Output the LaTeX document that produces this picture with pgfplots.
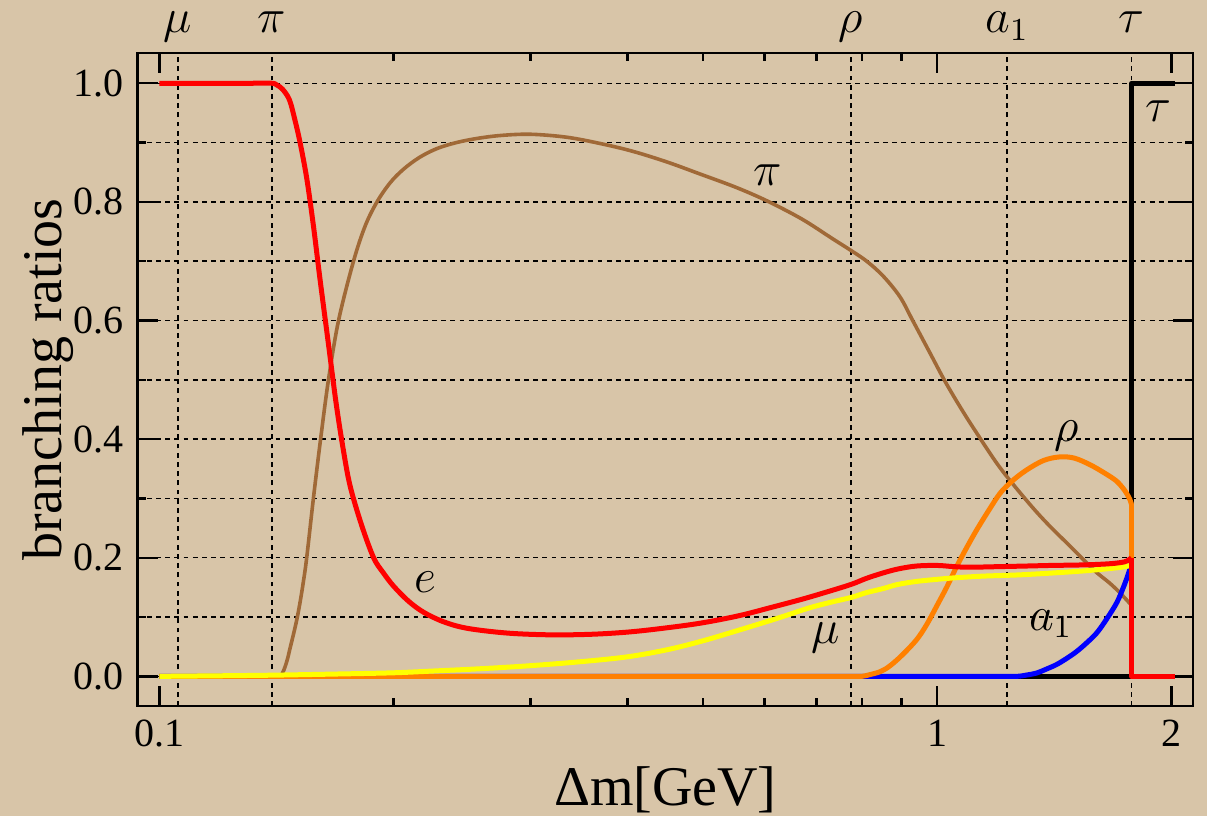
\documentclass[border=0pt]{standalone}
\usepackage{fontspec}
\setmainfont{Liberation Serif}
\usepackage{pgfplots}
\pgfplotsset{compat=1.18}
\usetikzlibrary{backgrounds}
\definecolor{parch}{RGB}{216,197,168}
\definecolor{mbrown}{RGB}{160,105,55}
\definecolor{morange}{RGB}{255,128,0}
\definecolor{myellow}{RGB}{255,255,0}
\begin{document}
\begin{tikzpicture}[background rectangle/.style={fill=parch}, show background rectangle, inner frame sep=0pt]
\useasboundingbox (-34.425pt,-27.5pt) rectangle (267.325pt,176.5pt);
\begin{axis}[
  at={(0,0)}, anchor=south west,
  scale only axis, width=263.825pt, height=163.25pt,
  xmode=log, xmin=0.0938, xmax=2.132, ymin=-0.05, ymax=1.051,
  clip=false,
  axis line style={line width=0.7pt},
  tick style={black, line width=0.6pt},
  major tick length=5pt, minor tick length=2pt,
  xtick={0.1,1,2}, xticklabels={0.1,1,2},
  minor xtick={0.2,0.3,0.4,0.5,0.6,0.7,0.8,0.9},
  ytick={0,0.2,0.4,0.6,0.8,1.0}, yticklabels={0.0,0.2,0.4,0.6,0.8,1.0},
  minor ytick={0.1,0.3,0.5,0.7,0.9},
  ymajorgrids, yminorgrids,
  extra x ticks={0.1057,0.1396,0.775,1.23,1.777}, extra x tick labels={},
  extra x tick style={grid=major, major tick length=0pt},
  grid style={black, dash pattern=on 1.2pt off 1.1pt, line width=0.35pt},
  minor grid style={black, dash pattern=on 1.2pt off 1.1pt, line width=0.35pt},
  tick label style={font=\fontsize{10}{12}\selectfont},
  xlabel={Δm[GeV]}, ylabel={branching ratios},
  label style={font=\fontsize{14}{16}\selectfont},
  xlabel style={at={(axis description cs:0.5,-0.129)}, anchor=center},
  ylabel style={at={(axis description cs:-0.085,0.5)}, anchor=center},
  every axis plot/.append style={no markers, line join=round},
]
% tau (black)
\addplot[black, line width=1.25pt] coordinates {(0.1,0) (1.777,0) (1.777,1) (2.02,1)};
% pi (brown)
\addplot[mbrown, line width=0.9pt, smooth, tension=0.55] coordinates {
(0.1,0)(0.12,0)(0.135,0)(0.1410,0)(0.1425,0)(0.1438,0.004)(0.1450,0.015)(0.1462,0.030)(0.1473,0.048)(0.1487,0.070)
(0.1502,0.095)(0.1517,0.125)(0.1532,0.16)(0.1547,0.2)(0.1578,0.3)(0.1612,0.4)(0.165,0.5)
(0.170,0.6)(0.1777,0.7)(0.1840,0.76)(0.1905,0.8)(0.198,0.832)(0.206,0.855)(0.216,0.875)
(0.2276,0.89)(0.241,0.900)(0.2563,0.907)(0.275,0.912)(0.30,0.914)(0.334,0.909)(0.37,0.898)
(0.4067,0.885)(0.45,0.867)(0.4955,0.847)(0.55,0.825)(0.6035,0.802)(0.67,0.771)(0.7354,0.737)
(0.775,0.718)(0.8115,0.700)(0.852,0.675)(0.8955,0.64)(0.93,0.60)(0.979,0.545)(1.0228,0.498)
(1.0693,0.455)(1.1178,0.415)(1.204,0.352)(1.3155,0.29)(1.396,0.253)(1.47,0.224)(1.541,0.197)
(1.60,0.176)(1.667,0.157)(1.72,0.14)(1.777,0.12)};
\addplot[mbrown, line width=0.9pt] coordinates {(1.777,0.12)(1.777,0)};
% a1 (blue)
\addplot[blue, line width=1.25pt, smooth, tension=0.55] coordinates {
(0.1,0)(0.3,0)(0.6,0)(0.9,0)(1.1,0)(1.2,0)(1.265,0)(1.30,0.002)(1.342,0.0056)(1.38,0.012)(1.424,0.02)(1.47,0.031)(1.511,0.042)
(1.555,0.056)(1.603,0.073)(1.65,0.096)(1.701,0.124)(1.735,0.15)(1.76,0.172)(1.777,0.19)};
\addplot[blue, line width=1.25pt] coordinates {(1.777,0.19)(1.777,0)};
% rho (orange)
\addplot[morange, line width=1.25pt, smooth, tension=0.55] coordinates {
(0.1,0)(0.3,0)(0.5,0)(0.7,0)(0.77,0)(0.80,0)(0.8195,0.003)(0.845,0.008)(0.868,0.017)(0.90,0.035)(0.941,0.062)(0.97,0.088)
(0.998,0.118)(1.03,0.152)(1.059,0.185)(1.09,0.216)(1.124,0.247)(1.165,0.280)(1.205,0.309)
(1.25,0.330)(1.303,0.348)(1.37,0.364)(1.437,0.370)(1.50,0.368)(1.571,0.357)(1.64,0.343)
(1.701,0.329)(1.745,0.312)(1.769,0.298)(1.777,0.29)};
\addplot[morange, line width=1.25pt] coordinates {(1.777,0.29)(1.777,0)};
% mu (yellow)
\addplot[myellow, line width=1.25pt, smooth, tension=0.55] coordinates {
(0.1,0)(0.12,0.001)(0.14,0.002)(0.17,0.004)(0.2,0.006)(0.225,0.009)(0.26,0.013)(0.3,0.018)(0.35,0.025)(0.4,0.033)
(0.45,0.045)(0.5,0.060)(0.553,0.077)(0.62,0.097)(0.683,0.115)(0.73,0.125)(0.775,0.133)
(0.81,0.141)(0.852,0.148)(0.89,0.155)(0.94,0.160)(0.988,0.163)(1.05,0.166)(1.146,0.169)
(1.27,0.171)(1.396,0.174)(1.55,0.178)(1.701,0.183)(1.76,0.186)(1.777,0.187)};
\addplot[myellow, line width=1.25pt] coordinates {(1.777,0.187)(1.777,0)};
% e (red)
\addplot[red, line width=1.25pt, smooth, tension=0.55] coordinates {
(0.1,1.0)(0.12,1.0)(0.132,1.0)(0.1396,1.0)(0.1416,0.997)(0.1440,0.99)(0.1470,0.972)(0.1494,0.938)(0.1517,0.9)
(0.1547,0.84)(0.1578,0.76)(0.1609,0.67)(0.1650,0.56)(0.1688,0.46)(0.1725,0.38)(0.1760,0.32)
(0.182,0.255)(0.1886,0.20)(0.1940,0.175)(0.2001,0.152)(0.209,0.127)(0.2187,0.108)(0.232,0.092)
(0.2488,0.081)(0.28,0.073)(0.3185,0.070)(0.36,0.071)(0.403,0.075)(0.45,0.082)(0.4977,0.090)
(0.555,0.102)(0.615,0.117)(0.67,0.130)(0.72,0.142)(0.775,0.155)(0.81,0.165)(0.85,0.174)
(0.89,0.181)(0.94,0.186)(1.0,0.187)(1.05,0.185)(1.1,0.184)(1.2,0.185)(1.3,0.186)(1.4,0.187)
(1.55,0.188)(1.67,0.19)(1.74,0.193)(1.765,0.197)(1.777,0.20)};
\addplot[red, line width=1.25pt] coordinates {(1.777,0.20)(1.777,0)(2.02,0)};
% top labels
\begin{scope}[every node/.style={font=\fontsize{12}{14}\selectfont, anchor=base, yshift=5pt}]
\node at (axis cs:0.1057,1.051) {$\mu$};
\node at (axis cs:0.1396,1.051) {$\pi$};
\node at (axis cs:0.775,1.051) {$\rho$};
\node at (axis cs:1.23,1.051) {$a_1$};
\node at (axis cs:1.777,1.051) {$\tau$};
\end{scope}
% curve labels
\begin{scope}[every node/.style={font=\fontsize{12}{14}\selectfont, anchor=center}]
\node at (axis cs:0.606,0.845) {$\pi$};
\node at (axis cs:0.2197,0.158) {$e$};
\node at (axis cs:0.719,0.065) {$\mu$};
\node at (axis cs:1.468,0.406) {$\rho$};
\node at (axis cs:1.400,0.089) {$a_1$};
\node at (axis cs:1.922,0.953) {$\tau$};
\end{scope}
\end{axis}
\end{tikzpicture}
\end{document}
